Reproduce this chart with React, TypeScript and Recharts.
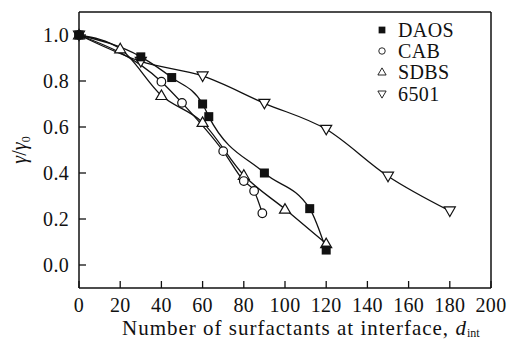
import { LineChart, Line, XAxis, YAxis, ReferenceLine } from "recharts";

const FONT = "'Liberation Serif', 'Times New Roman', serif";
const INK = "#111";

// data
const daosX = [0, 30, 45, 60, 63, 90, 112, 120];
const daosY = [1.0, 0.905, 0.815, 0.7, 0.645, 0.4, 0.245, 0.065];
const cabX = [0, 40, 50, 70, 80, 85, 89];
const cabY = [1.0, 0.797, 0.705, 0.495, 0.365, 0.322, 0.225];
const sdbsX = [0, 20, 40, 60, 80, 100, 120];
const sdbsY = [1.0, 0.94, 0.737, 0.62, 0.39, 0.243, 0.093];
const s6501X = [0, 30, 60, 90, 120, 150, 180];
const s6501Y = [1.0, 0.885, 0.822, 0.703, 0.59, 0.386, 0.235];

const xTicks = [0, 20, 40, 60, 80, 100, 120, 140, 160, 180, 200];
const yTicks = [0, 0.2, 0.4, 0.6, 0.8, 1.0];

const pairs = (xs: number[], ys: number[]) => xs.map((x, i) => ({ x, y: ys[i] }));

type Shape = "square" | "circle" | "up" | "down";

function Marker({ cx, cy, shape }: { cx: number; cy: number; shape: Shape }) {
  if (shape === "square")
    return <rect x={cx - 4.5} y={cy - 4.5} width={9} height={9} fill={INK} />;
  if (shape === "circle")
    return <circle cx={cx} cy={cy} r={4.3} fill="#fff" stroke={INK} strokeWidth={1.2} />;
  const pts =
    shape === "up"
      ? `${cx},${cy - 5.5} ${cx - 5.5},${cy + 4} ${cx + 5.5},${cy + 4}`
      : `${cx},${cy + 5.5} ${cx - 5.5},${cy - 4} ${cx + 5.5},${cy - 4}`;
  return <polygon points={pts} fill="#fff" stroke={INK} strokeWidth={1.2} />;
}

const dotFor = (shape: Shape) => (p: any) => (
  <Marker key={`${shape}-${p.index}`} cx={p.cx} cy={p.cy} shape={shape} />
);

const series: { name: string; shape: Shape; data: { x: number; y: number }[] }[] = [
  { name: "6501", shape: "down", data: pairs(s6501X, s6501Y) },
  { name: "SDBS", shape: "up", data: pairs(sdbsX, sdbsY) },
  { name: "CAB", shape: "circle", data: pairs(cabX, cabY) },
  { name: "DAOS", shape: "square", data: pairs(daosX, daosY) },
];
const legendOrder = ["DAOS", "CAB", "SDBS", "6501"];

const tickText = { fontSize: 20, fontFamily: FONT, letterSpacing: 0.3 };

function XTick({ x, y, payload }: any) {
  return (
    <g>
      <line x1={x} y1={y} x2={x} y2={y - 7} stroke={INK} strokeWidth={1.3} />
      <text x={x} y={y + 24} textAnchor="middle" style={tickText} fill={INK}>
        {payload.value}
      </text>
    </g>
  );
}

function YTick({ x, y, payload }: any) {
  return (
    <g>
      <line x1={x} y1={y} x2={x + 7} y2={y} stroke={INK} strokeWidth={1.3} />
      <text x={x - 10} y={y + 7} textAnchor="end" style={tickText} fill={INK}>
        {Number(payload.value).toFixed(1)}
      </text>
    </g>
  );
}

function LegendBox() {
  return (
    <div
      style={{
        position: "absolute",
        left: 375,
        top: 19,
        fontFamily: FONT,
        fontSize: 20,
        color: INK,
        pointerEvents: "none",
      }}
    >
      {legendOrder.map((name) => {
        const s = series.find((d) => d.name === name)!;
        return (
          <div key={name} style={{ display: "flex", alignItems: "center", height: 21.3, lineHeight: "20px" }}>
            <svg width={14} height={14} style={{ marginRight: 9 }}>
              <g transform="translate(7,7) scale(0.75) translate(-7,-7)">
                <Marker cx={7} cy={7} shape={s.shape} />
              </g>
            </svg>
            <span style={{ letterSpacing: 0.4 }}>{name}</span>
          </div>
        );
      })}
    </div>
  );
}

export default function App() {
  return (
    <div style={{ position: "absolute", left: 0, top: 0, width: 510, height: 342, background: "#fff" }}>
      <LineChart width={510} height={342} margin={{ top: 12, right: 19, left: 0, bottom: 0 }}>
        <XAxis
          dataKey="x"
          type="number"
          domain={[0, 200]}
          ticks={xTicks}
          interval={0}
          allowDuplicatedCategory={false}
          height={54}
          tickSize={0}
          tickMargin={0}
          tickLine={false}
          tick={<XTick />}
          axisLine={{ stroke: INK, strokeWidth: 1.5 }}
          label={{
            content: () => (
              <text
                x={122}
                y={335}
                textAnchor="start"
                style={{ fontSize: 21, fontFamily: FONT, letterSpacing: 1 }}
                fill={INK}
              >
                Number of surfactants at interface,{" "}
                <tspan fontStyle="italic">d</tspan>
                <tspan fontSize={12} dy={2} letterSpacing={0}>int</tspan>
              </text>
            ),
          }}
        />
        <YAxis
          type="number"
          domain={[-0.1, 1.1]}
          ticks={yTicks}
          interval={0}
          width={79}
          tickSize={0}
          tickMargin={0}
          tickLine={false}
          tick={<YTick />}
          axisLine={{ stroke: INK, strokeWidth: 1.5 }}
          label={{
            content: () => (
              <text
                transform="translate(26,150) rotate(-90)"
                textAnchor="middle"
                style={{ fontSize: 20, fontFamily: FONT }}
                fill={INK}
              >
                <tspan fontStyle="italic">γ</tspan>/<tspan fontStyle="italic">γ</tspan>
                <tspan fontSize={12} dy={4}>0</tspan>
              </text>
            ),
          }}
        />
        <ReferenceLine y={1.1} stroke={INK} strokeWidth={1.5} ifOverflow="visible" />
        <ReferenceLine x={200} stroke={INK} strokeWidth={1.5} ifOverflow="visible" />
        {series.map((s) => (
          <Line
            key={s.name}
            name={s.name}
            data={s.data}
            dataKey="y"
            type="monotone"
            stroke={INK}
            strokeWidth={1.3}
            dot={dotFor(s.shape)}
            activeDot={false}
            legendType="none"
            isAnimationActive={false}
          />
        ))}
      </LineChart>
      <LegendBox />
    </div>
  );
}
